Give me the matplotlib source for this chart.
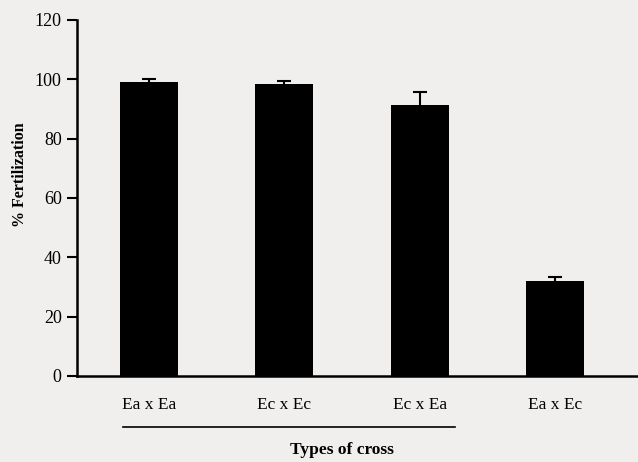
import numpy as np
import matplotlib.pyplot as plt

crosses = ['Ea x Ea', 'Ec x Ec', 'Ec x Ea', 'Ea x Ec']
fertilization = [99.2, 98.5, 91.3, 32.0]
err_up = [1.0, 1.0, 4.4, 1.4]

plt.rcParams['font.family'] = ['Liberation Serif', 'DejaVu Serif']
bg = '#f0efed'

fig = plt.figure(figsize=(6.38, 4.62), dpi=100, facecolor=bg)
ax = fig.add_axes([77 / 638, 86 / 462, 1 - 77 / 638, 356 / 462])
ax.set_facecolor(bg)

x = np.arange(len(crosses))
ax.bar(x, fertilization, width=0.43, color='black')
eb = ax.errorbar(x, fertilization, yerr=[np.zeros(len(err_up)), err_up],
                 fmt='none', ecolor='black', elinewidth=1.5, capsize=5,
                 capthick=1.5)
eb[1][0].set_visible(False)  # only the upper caps

ax.set_xlim(-0.532, 3.614)
ax.set_ylim(0, 120)
ax.set_yticks(range(0, 121, 20))
ax.set_xticks(x)
ax.set_xticklabels(crosses, fontsize=12.5)
ax.tick_params(axis='x', length=0, pad=15)
ax.tick_params(axis='y', length=7, width=1.5, labelsize=13, pad=4)
for s in ['top', 'right']:
    ax.spines[s].set_visible(False)
for s in ['left', 'bottom']:
    ax.spines[s].set_linewidth(1.8)

# line under the first three crosses
ax.plot([-0.19, 2.26], [-0.143, -0.143], color='black', lw=1.2,
        transform=ax.get_xaxis_transform(), clip_on=False)

fig.text(342 / 638, 1 - 450 / 462, 'Types of cross', ha='center', va='center',
         fontsize=12.5, fontweight='bold')
fig.text(20 / 638, 1 - 175 / 462, '% Fertilization', ha='center', va='center',
         rotation=90, fontsize=11.5, fontweight='bold')

fig.savefig('out.png', dpi=100, facecolor=bg)
